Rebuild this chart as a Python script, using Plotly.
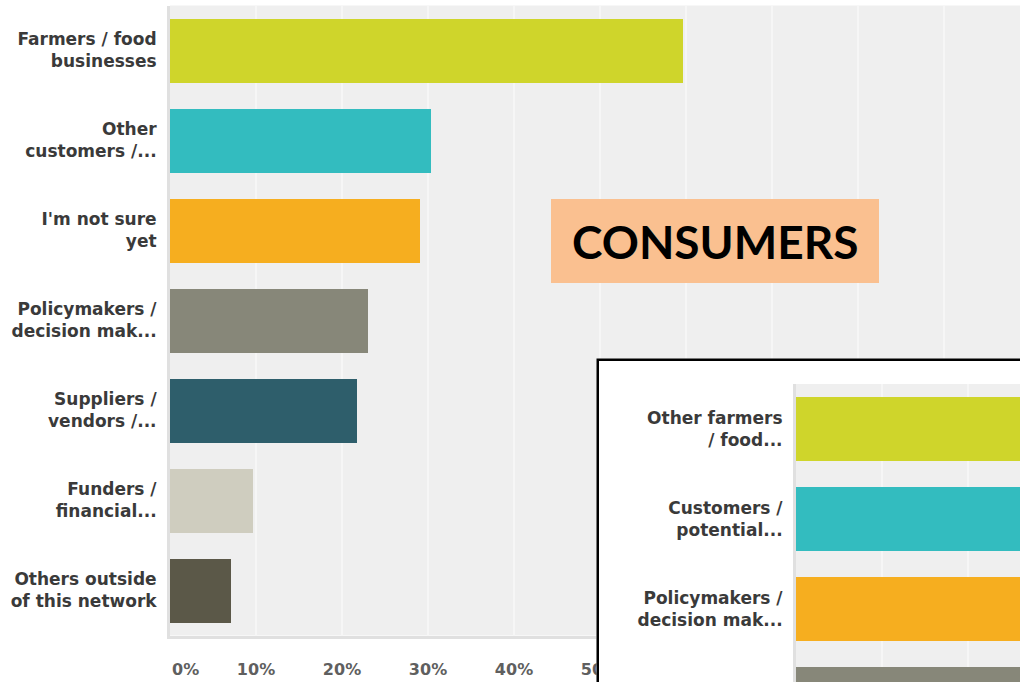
import plotly.graph_objects as go

# ---------------- data ----------------
main_categories = ["Farmers / food businesses", "Other customers /...", "I'm not sure yet",
                   "Policymakers / decision mak...", "Suppliers / vendors /...",
                   "Funders / financial...", "Others outside of this network"]
main_labels = ["Farmers / food<br>businesses", "Other<br>customers /...", "I'm not sure<br>yet",
               "Policymakers /<br>decision mak...", "Suppliers /<br>vendors /...",
               "Funders /<br>financial...", "Others outside<br>of this network"]
main_values = [59.6, 30.3, 29.1, 23.0, 21.7, 9.6, 7.1]
main_colors = ["#cfd52b", "#33bcbf", "#f6ae1f", "#878779", "#2e5e6b", "#cfcdbf", "#5b5848"]

inset_categories = ["Other farmers / food...", "Customers / potential...",
                    "Policymakers / decision mak...", "Funders / financial..."]
inset_labels = ["Other farmers<br>/ food...", "Customers /<br>potential...",
                "Policymakers /<br>decision mak...", "Funders /<br>financial..."]
inset_values = [45, 40, 35, 30]   # bars run off the visible frame; estimated
inset_colors = ["#cfd52b", "#33bcbf", "#f6ae1f", "#878779"]

x_tick_vals = [10, 20, 30, 40, 50, 60, 70, 80, 90]
x_tick_text = ["10%", "20%", "30%", "40%", "50%", "60%", "70%", "80%", "90%"]

badge_text = "CONSUMERS"

W, H = 1020, 682
PX_PER_PCT = 8.6

fig = go.Figure()

fig.add_trace(go.Bar(
    x=main_values, y=main_categories, orientation="h",
    marker=dict(color=main_colors, line=dict(width=0)),
    width=0.72, xaxis="x", yaxis="y", showlegend=False, hoverinfo="skip"))

# white frame subplot (covers the main chart)
fig.add_trace(go.Scatter(x=[], y=[], xaxis="x2", yaxis="y2", showlegend=False, hoverinfo="skip"))

fig.add_trace(go.Bar(
    x=inset_values, y=inset_categories, orientation="h",
    marker=dict(color=inset_colors, line=dict(width=0)),
    width=0.72, xaxis="x3", yaxis="y3", showlegend=False, hoverinfo="skip"))

tickfont_y = dict(family="DejaVu Sans", size=17, color="#3a3a3a", weight="bold")

main_left = 170
main_top = 5.5
main_bottom = 635.5

inset_frame_left = 596.5
inset_frame_top = 358.5
inset_left = 796
inset_top = 384

fig.update_layout(
    width=W, height=H,
    margin=dict(l=0, r=0, t=0, b=0),
    paper_bgcolor="white",
    plot_bgcolor="#efefef",
    bargap=0,
    xaxis=dict(domain=[main_left / W, 1], range=[0, (W - main_left) / PX_PER_PCT],
               tickvals=x_tick_vals, ticktext=x_tick_text,
               tickfont=dict(family="DejaVu Sans", size=16, color="#5f5f5f", weight="bold"),
               ticklabelstandoff=17,
               showgrid=True, gridcolor="#f6f6f6", gridwidth=2, zeroline=False,
               showline=True, linecolor="#e0e0e0", linewidth=3,
               anchor="y", fixedrange=True),
    yaxis=dict(domain=[(H - main_bottom) / H, (H - main_top) / H],
               type="category", categoryarray=main_categories,
               tickvals=main_categories, ticktext=main_labels,
               range=[len(main_categories) - 0.5, -0.5],
               tickfont=tickfont_y, ticklabelstandoff=7,
               showgrid=False, zeroline=False,
               showline=True, linecolor="#e0e0e0", linewidth=3,
               anchor="x", fixedrange=True),
    xaxis2=dict(domain=[inset_frame_left / W, 1], range=[0, 1], visible=False, anchor="y2"),
    yaxis2=dict(domain=[0, (H - inset_frame_top) / H], range=[0, 1], visible=False, anchor="x2"),
    xaxis3=dict(domain=[inset_left / W, 1], range=[0, (W - inset_left) / PX_PER_PCT],
                tickvals=x_tick_vals, showticklabels=False,
                showgrid=True, gridcolor="#f6f6f6", gridwidth=2, zeroline=False,
                anchor="y3", fixedrange=True),
    yaxis3=dict(domain=[0, (H - inset_top) / H],
                type="category", categoryarray=inset_categories,
                tickvals=inset_categories, ticktext=inset_labels,
                range=[-0.5 + (H - inset_top) / 90.0, -0.5],
                tickfont=tickfont_y, ticklabelstandoff=7,
                showgrid=False, zeroline=False,
                showline=True, linecolor="#e0e0e0", linewidth=3,
                anchor="x3", fixedrange=True),
    shapes=[
        # white inset frame with black border (extends past the visible edge)
        dict(type="rect", xref="x2", yref="y2", x0=0, x1=1.5, y0=-0.5, y1=1,
             fillcolor="white", line=dict(color="black", width=5), layer="below"),
        # badge box
        dict(type="rect", xref="paper", yref="paper",
             x0=551 / W, x1=879 / W, y0=(H - 283) / H, y1=(H - 199) / H,
             fillcolor="#fac090", line=dict(width=0), layer="above"),
    ],
    annotations=[
        dict(text="0%", xref="x", yref="paper", x=0, y=(H - 669) / H,
             xanchor="left", yanchor="middle", showarrow=False,
             font=dict(family="DejaVu Sans", size=16, color="#5f5f5f", weight="bold")),
        dict(text="<b>" + badge_text + "</b>", xref="paper", yref="paper",
             x=715 / W, y=(H - 241) / H, xanchor="center", yanchor="middle",
             showarrow=False, font=dict(family="Lato", size=46, color="black")),
    ],
)

fig.write_html("out.html", config={"displayModeBar": False},
               post_script="document.body.style.margin='0';")
